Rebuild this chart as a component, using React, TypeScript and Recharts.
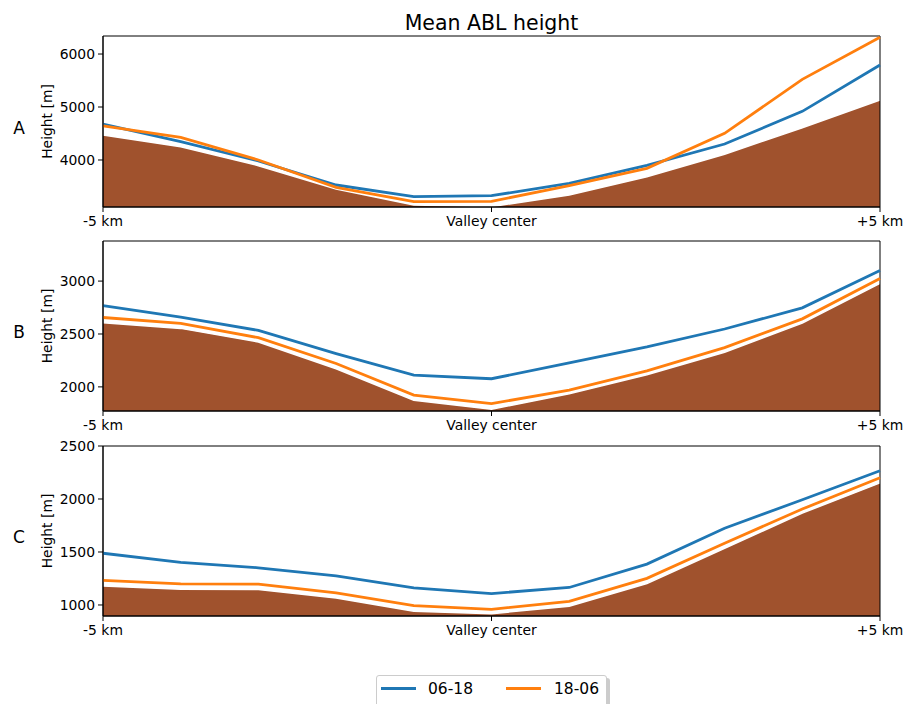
import React from 'react';
import { ComposedChart, Area, Line, XAxis, YAxis, Legend, Label, ReferenceArea } from 'recharts';

// distance from valley center [km]
const XS = [-5, -4, -3, -2, -1, 0, 1, 2, 3, 4, 5];
const X_TICKS = [-5, 0, 5];
const X_TICK_LABELS = ['-5 km', 'Valley center', '+5 km'];

const SERIES_NAMES = ['06-18', '18-06'];
const PANEL_LETTERS = ['A', 'B', 'C'];

const A_TERRAIN = [4472, 4251, 3893, 3453, 3151, 3120, 3340, 3685, 4107, 4610, 5132];
const A_DAY = [4679, 4345, 3981, 3528, 3308, 3326, 3560, 3900, 4302, 4918, 5792];
const A_NIGHT = [4642, 4428, 4000, 3485, 3213, 3220, 3516, 3843, 4503, 5522, 6315];
const A_DOMAIN = [3113, 6340];
const A_TICKS = [4000, 5000, 6000];

const B_TERRAIN = [2606, 2553, 2425, 2171, 1873, 1788, 1935, 2115, 2327, 2603, 2978];
const B_DAY = [2769, 2660, 2534, 2315, 2111, 2077, 2227, 2378, 2547, 2747, 3100];
const B_NIGHT = [2656, 2600, 2465, 2221, 1923, 1842, 1970, 2152, 2371, 2643, 3025];
const B_DOMAIN = [1772, 3379];
const B_TICKS = [2000, 2500, 3000];

const C_TERRAIN = [1180, 1149, 1146, 1066, 940, 918, 988, 1202, 1535, 1867, 2152];
const C_DAY = [1488, 1402, 1351, 1275, 1161, 1108, 1165, 1386, 1724, 1993, 2267];
const C_NIGHT = [1232, 1200, 1197, 1114, 994, 959, 1035, 1251, 1583, 1905, 2200];
const C_DOMAIN = [896, 2500];
const C_TICKS = [1000, 1500, 2000, 2500];

const BLUE = '#1f77b4';
const ORANGE = '#ff7f0e';
const TERRAIN = '#a0522d';
const FONT = '"DejaVu Sans", sans-serif';

function buildRows(terrain: number[], day: number[], night: number[]) {
  return XS.map((x, i) => ({ x, terrain: terrain[i], day: day[i], night: night[i] }));
}

function xTickFormat(v: number) {
  const i = X_TICKS.indexOf(v);
  return i >= 0 ? X_TICK_LABELS[i] : '';
}

const LegendBox = () => (
  <div style={{ position: 'relative', width: 231, height: 34, fontFamily: FONT }}>
    <div style={{ position: 'absolute', left: 3, top: 3, width: 231, height: 34, background: '#999', opacity: 0.5, borderRadius: 3 }} />
    <div style={{ position: 'absolute', left: 0, top: 0, width: 229, height: 32, background: '#fff', border: '1px solid #ccc', borderRadius: 3 }} />
    <svg style={{ position: 'absolute', left: 0, top: 0 }} width={232} height={34}>
      <line x1={5} x2={40} y1={13.5} y2={13.5} stroke={BLUE} strokeWidth={2.8} />
      <text x={52} y={19} fontSize={15.5} fill="#000" fontFamily={FONT}>{SERIES_NAMES[0]}</text>
      <line x1={130} x2={165} y1={13.5} y2={13.5} stroke={ORANGE} strokeWidth={2.8} />
      <text x={178} y={19} fontSize={15.5} fill="#000" fontFamily={FONT}>{SERIES_NAMES[1]}</text>
    </svg>
  </div>
);

type PanelProps = {
  letter: string;
  terrain: number[];
  day: number[];
  night: number[];
  domain: number[];
  ticks: number[];
  top: number;
  plotH: number;
  extraBottom: number;
  legend?: boolean;
};

function Panel({ letter, terrain, day, night, domain, ticks, top, plotH, extraBottom, legend }: PanelProps) {
  const data = buildRows(terrain, day, night);
  const height = 10 + plotH + 24 + extraBottom;
  const tickStyle = { fill: '#000', fontSize: 13.9, fontFamily: FONT };
  return (
    <div style={{ position: 'absolute', left: 0, top, width: 908, height }}>
      <ComposedChart width={908} height={height} data={data} margin={{ top: 10, right: 28, left: 0, bottom: extraBottom }}>
        <XAxis
          dataKey="x"
          type="number"
          domain={[-5, 5]}
          ticks={X_TICKS}
          interval={0}
          tickFormatter={xTickFormat}
          tick={tickStyle}
          tickSize={5}
          tickMargin={4}
          height={24}
          axisLine={{ stroke: '#000' }}
          tickLine={{ stroke: '#000' }}
        />
        <YAxis
          type="number"
          domain={domain}
          ticks={ticks}
          allowDataOverflow
          width={103}
          tick={tickStyle}
          tickSize={5}
          tickMargin={3}
          axisLine={{ stroke: '#000' }}
          tickLine={{ stroke: '#000' }}
        >
          <Label
            content={(props: any) => {
              const vb = props.viewBox || { y: 10, height: plotH };
              const cy = vb.y + vb.height / 2;
              return (
                <g>
                  <text x={47} y={cy} transform={`rotate(-90 47 ${cy})`} textAnchor="middle" dominantBaseline="central" fontSize={13.9} fill="#000" fontFamily={FONT}>
                    Height [m]
                  </text>
                  <text x={19} y={cy + 6} textAnchor="middle" dominantBaseline="central" fontSize={17} fill="#000" fontFamily={FONT}>
                    {letter}
                  </text>
                </g>
              );
            }}
          />
        </YAxis>
        <Area
          type="linear"
          dataKey="terrain"
          fill={TERRAIN}
          fillOpacity={1}
          stroke="#fff"
          strokeWidth={1.5}
          baseValue="dataMin"
          isAnimationActive={false}
          legendType="none"
        />
        <Line type="linear" dataKey="day" name={SERIES_NAMES[0]} stroke={BLUE} strokeWidth={2.8} dot={false} isAnimationActive={false} />
        <Line type="linear" dataKey="night" name={SERIES_NAMES[1]} stroke={ORANGE} strokeWidth={2.8} dot={false} isAnimationActive={false} />
        <ReferenceArea
          x1={-5}
          x2={5}
          y1={domain[0]}
          y2={domain[1]}
          fill="none"
          fillOpacity={0}
          stroke="#000"
          strokeWidth={1}
          ifOverflow="visible"
        />
        {legend ? (
          <Legend
            layout="horizontal"
            verticalAlign="middle"
            align="center"
            content={() => <LegendBox />}
            wrapperStyle={{ top: 675 - top, left: 376, width: 234, height: 36 }}
          />
        ) : null}
      </ComposedChart>
    </div>
  );
}

export default function App() {
  return (
    <div style={{ position: 'absolute', left: 0, top: 0, width: 908, height: 704, overflow: 'hidden', background: '#fff', fontFamily: FONT }}>
      <svg style={{ position: 'absolute', left: 0, top: 0 }} width={908} height={40}>
        <text x={491.5} y={30} textAnchor="middle" fontSize={20.5} fill="#000" fontFamily={FONT}>
          Mean ABL height
        </text>
      </svg>
      <Panel letter={PANEL_LETTERS[0]} terrain={A_TERRAIN} day={A_DAY} night={A_NIGHT} domain={A_DOMAIN} ticks={A_TICKS} top={26} plotH={171} extraBottom={0} />
      <Panel letter={PANEL_LETTERS[1]} terrain={B_TERRAIN} day={B_DAY} night={B_NIGHT} domain={B_DOMAIN} ticks={B_TICKS} top={231} plotH={170} extraBottom={0} />
      <Panel letter={PANEL_LETTERS[2]} terrain={C_TERRAIN} day={C_DAY} night={C_NIGHT} domain={C_DOMAIN} ticks={C_TICKS} top={436} plotH={170} extraBottom={64} legend />
    </div>
  );
}
